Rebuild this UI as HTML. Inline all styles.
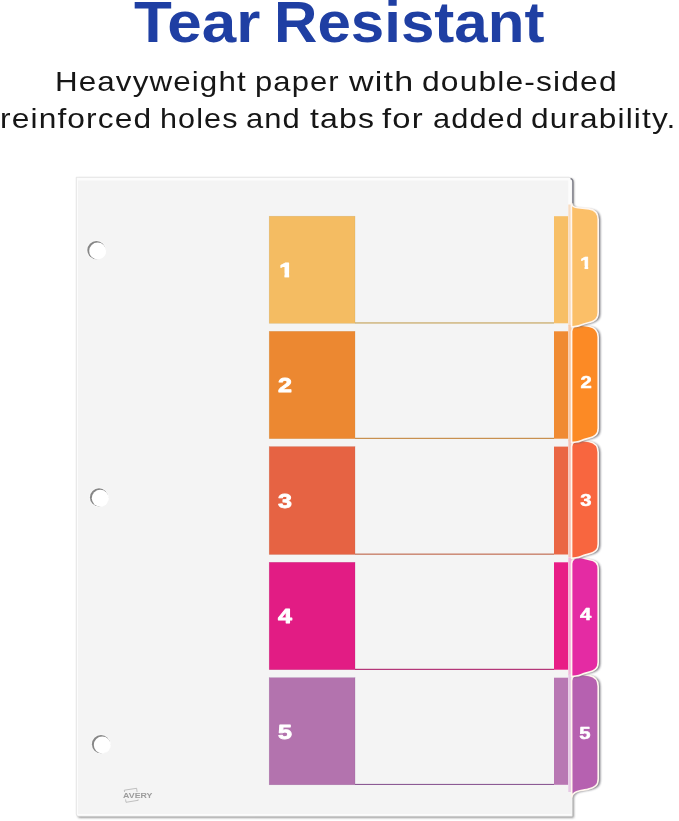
<!DOCTYPE html>
<html><head><meta charset="utf-8">
<style>
html,body{margin:0;padding:0;background:#fff;}
body{width:679px;height:821px;position:relative;overflow:hidden;font-family:"Liberation Sans",sans-serif;}
h1,p{margin:0;padding:0;font-size:0;font-weight:normal;}
.w{position:absolute;white-space:nowrap;transform-origin:0 0;color:#161616;font-size:28px;line-height:34px;letter-spacing:1px;}
.w.h{font-weight:bold;font-size:56.7px;line-height:68px;letter-spacing:0;color:#1f3fa3;}
svg{position:absolute;left:0;top:0;}
svg text{font-family:"Liberation Sans",sans-serif;font-weight:bold;fill:#fff;stroke:#fff;stroke-width:0.8px;stroke-linejoin:round;}
svg text.sm{stroke-width:0.5px;}
svg text.logo{font-weight:bold;fill:#9c9c9c;stroke:none;}
</style></head>
<body>
<h1><span class="w h" style="left:133.81px;top:-11.45px;transform:scaleX(1.093)">Tear</span> <span class="w h" style="left:274.26px;top:-11.45px;transform:scaleX(1.0596)">Resistant</span></h1>
<p><span class="w" style="left:55.36px;top:64.50px;transform:scaleX(1.1196)">Heavyweight</span> <span class="w" style="left:254.79px;top:64.50px;transform:scaleX(1.1055)">paper</span> <span class="w" style="left:349.2px;top:64.50px;transform:scaleX(1.2157)">with</span> <span class="w" style="left:422.06px;top:64.50px;transform:scaleX(1.1357)">double-sided</span>
<span class="w" style="left:-0.26px;top:102.30px;transform:scaleX(1.1323)">reinforced</span> <span class="w" style="left:159.92px;top:102.30px;transform:scaleX(1.0912)">holes</span> <span class="w" style="left:246.4px;top:102.30px;transform:scaleX(1.1043)">and</span> <span class="w" style="left:309.8px;top:102.30px;transform:scaleX(1.1436)">tabs</span> <span class="w" style="left:382.4px;top:102.30px;transform:scaleX(1.1706)">for</span> <span class="w" style="left:432.6px;top:102.30px;transform:scaleX(1.0975)">added</span> <span class="w" style="left:530.77px;top:102.30px;transform:scaleX(1.1298)">durability.</span></p>
<svg width="679" height="821" viewBox="0 0 679 821">
<defs>
<filter id="sh" x="-10%" y="-10%" width="120%" height="120%"><feGaussianBlur stdDeviation="0.9"/></filter>
<filter id="sh2" x="-50%" y="-10%" width="200%" height="120%"><feGaussianBlur stdDeviation="0.45"/></filter>
<clipPath id="c1"><rect x="-6" y="-16" width="9" height="12.3"/><rect x="-1.3" y="-3.8" width="3.55" height="4.3"/></clipPath>
<clipPath id="c2"><rect x="-5" y="-13" width="8" height="10.0"/><rect x="-1.0" y="-3.1" width="2.75" height="3.6"/></clipPath>
</defs>
<!-- paper shadow -->
<path d="M77 178 H570 Q573 178 573 182 V206 L573 790 V817 H79 Q77 817 77 815 Z" fill="#8a8a8a" filter="url(#sh)" transform="translate(0.8,0.8)"/>
<!-- paper back sheets (light) -->
<path d="M76.3 177.3 H569 Q572.3 177.3 572.3 181 V816.3 H78.5 Q76.3 816.3 76.3 814 Z" fill="#fcfcfc" stroke="#dcdcdc" stroke-width="0.7"/>
<!-- main sheet -->
<rect x="78" y="180.5" width="490.3" height="633.5" fill="#f4f4f4"/>
<rect x="78" y="786" width="493.5" height="28" fill="#f4f4f4"/>
<rect x="269.2" y="216.2" width="85.8" height="107.1" fill="#f4bc62" stroke="#c29f55" stroke-opacity="0.45" stroke-width="0.5"/>
<rect x="554" y="216.2" width="14.2" height="107.1" fill="#f7bf66"/>
<rect x="355" y="322.4" width="199" height="1.1" fill="#c29f55"/>
<rect x="269.2" y="331.3" width="85.8" height="107.4" fill="#ec8831" stroke="#c4853f" stroke-opacity="0.45" stroke-width="0.5"/>
<rect x="554" y="331.3" width="14.2" height="107.4" fill="#f08b32"/>
<rect x="355" y="437.8" width="199" height="1.1" fill="#c4853f"/>
<rect x="269.2" y="446.6" width="85.8" height="107.9" fill="#e66343" stroke="#bd6346" stroke-opacity="0.45" stroke-width="0.5"/>
<rect x="554" y="446.6" width="14.2" height="107.9" fill="#ea6644"/>
<rect x="355" y="553.6" width="199" height="1.1" fill="#bd6346"/>
<rect x="269.2" y="562.3" width="85.8" height="107.4" fill="#e21c84" stroke="#ad236c" stroke-opacity="0.45" stroke-width="0.5"/>
<rect x="554" y="562.3" width="14.2" height="107.4" fill="#e81d86"/>
<rect x="355" y="668.8" width="199" height="1.1" fill="#ad236c"/>
<rect x="269.2" y="677.7" width="85.8" height="107.1" fill="#b373ae" stroke="#8c5a94" stroke-opacity="0.45" stroke-width="0.5"/>
<rect x="554" y="677.7" width="14.2" height="107.1" fill="#b877b3"/>
<rect x="355" y="783.9" width="199" height="1.1" fill="#8c5a94"/>
<path d="M570.5 178.6 Q572.9 178.8 572.9 182 V203.5" fill="none" stroke="#7e7e88" stroke-width="1.3" filter="url(#sh2)"/>
<rect x="568.3" y="204.5" width="3.6" height="121.10000000000002" fill="#f8dcc0"/>
<rect x="568.3" y="325.0" width="3.6" height="116.19999999999999" fill="#f9c9a4"/>
<rect x="568.3" y="440.3" width="3.6" height="116.69999999999999" fill="#f6c3b8"/>
<rect x="568.3" y="557.3" width="3.6" height="117.90000000000009" fill="#f3b4d8"/>
<rect x="568.3" y="674.2" width="3.6" height="117.79999999999995" fill="#e6c9e5"/>
<path d="M571.6 680.7 C571.8 676.2 575 674.2 580 674.2 L589 675.4000000000001 C595.5 676.6000000000001 598.2 679.7 598.2 686.2 V779 C598.2 785 595.5 787.4 587.5 789.4 C582 790.4 573 790.5 571.7 797 Z" fill="#6a6a72" opacity="0.95" filter="url(#sh)" transform="translate(2.1,0.7)"/>
<path d="M571.6 680.7 C571.8 676.2 575 674.2 580 674.2 L589 675.4000000000001 C595.5 676.6000000000001 598.2 679.7 598.2 686.2 V779 C598.2 785 595.5 787.4 587.5 789.4 C582 790.4 573 790.5 571.7 797 Z" fill="#b661b0" stroke="#fff6ee" stroke-width="1.6" stroke-linejoin="round"/>
<path d="M571.6 563.8 C571.8 559.3 575 557.3 580 557.3 L589 559.5 C595.5 560.7 598.2 562.8 598.2 569.3 V662.2 C598.2 668.2 595.5 670.6 587.5 672.6 C585 673.2 583 673.8000000000001 581 674.7 C579.5 675.4000000000001 578 675.8000000000001 576 676.0 L571.6 676.6 Z" fill="#6a6a72" opacity="0.95" filter="url(#sh)" transform="translate(2.1,0.7)"/>
<path d="M571.6 563.8 C571.8 559.3 575 557.3 580 557.3 L589 559.5 C595.5 560.7 598.2 562.8 598.2 569.3 V662.2 C598.2 668.2 595.5 670.6 587.5 672.6 C585 673.2 583 673.8000000000001 581 674.7 C579.5 675.4000000000001 578 675.8000000000001 576 676.0 L571.6 676.6 Z" fill="#e42ba3" stroke="#fff6ee" stroke-width="1.6" stroke-linejoin="round"/>
<path d="M571.6 446.8 C571.8 442.3 575 440.3 580 440.3 L589 441.5 C595.5 442.7 598.2 445.8 598.2 452.3 V544.0 C598.2 550.0 595.5 552.4 587.5 554.4 C585 555.0 583 555.6 581 556.5 C579.5 557.2 578 557.6 576 557.8 L571.6 558.4 Z" fill="#6a6a72" opacity="0.95" filter="url(#sh)" transform="translate(2.1,0.7)"/>
<path d="M571.6 446.8 C571.8 442.3 575 440.3 580 440.3 L589 441.5 C595.5 442.7 598.2 445.8 598.2 452.3 V544.0 C598.2 550.0 595.5 552.4 587.5 554.4 C585 555.0 583 555.6 581 556.5 C579.5 557.2 578 557.6 576 557.8 L571.6 558.4 Z" fill="#f8663f" stroke="#fff6ee" stroke-width="1.6" stroke-linejoin="round"/>
<path d="M571.6 331.5 C571.8 327.0 575 325.0 580 325.0 L589 326.2 C595.5 327.4 598.2 330.5 598.2 337.0 V428.2 C598.2 434.2 595.5 436.59999999999997 587.5 438.59999999999997 C585 439.2 583 439.8 581 440.7 C579.5 441.4 578 441.8 576 442.0 L571.6 442.59999999999997 Z" fill="#6a6a72" opacity="0.95" filter="url(#sh)" transform="translate(2.1,0.7)"/>
<path d="M571.6 331.5 C571.8 327.0 575 325.0 580 325.0 L589 326.2 C595.5 327.4 598.2 330.5 598.2 337.0 V428.2 C598.2 434.2 595.5 436.59999999999997 587.5 438.59999999999997 C585 439.2 583 439.8 581 440.7 C579.5 441.4 578 441.8 576 442.0 L571.6 442.59999999999997 Z" fill="#fc8a25" stroke="#fff6ee" stroke-width="1.6" stroke-linejoin="round"/>
<path d="M571.4 203.0 C571.8 206.0 574 207.7 578 207.8 L589 208.9 C595.5 209.89999999999998 598.2 213.0 598.2 219.5 V312.6 C598.2 318.6 595.5 321.0 587.5 323.0 C585 323.6 583 324.20000000000005 581 325.1 C579.5 325.8 578 326.20000000000005 576 326.40000000000003 L571.6 327.0 Z" fill="#6a6a72" opacity="0.95" filter="url(#sh)" transform="translate(2.1,0.7)"/>
<path d="M571.4 203.0 C571.8 206.0 574 207.7 578 207.8 L589 208.9 C595.5 209.89999999999998 598.2 213.0 598.2 219.5 V312.6 C598.2 318.6 595.5 321.0 587.5 323.0 C585 323.6 583 324.20000000000005 581 325.1 C579.5 325.8 578 326.20000000000005 576 326.40000000000003 L571.6 327.0 Z" fill="#fbbf68" stroke="#fff6ee" stroke-width="1.6" stroke-linejoin="round"/>
<text x="0" y="0" font-size="19.3" clip-path="url(#c1)" text-anchor="middle" transform="translate(286.2,277.2) scale(1.3,1)">1</text>
<text class="sm" x="0" y="0" font-size="15.6" clip-path="url(#c2)" text-anchor="middle" transform="translate(585.9,268.8) scale(1.3,1)">1</text>
<text x="0" y="0" font-size="19.3" text-anchor="middle" transform="translate(285.0,391.7) scale(1.3,1)">2</text>
<text class="sm" x="0" y="0" font-size="15.6" text-anchor="middle" transform="translate(586.1,387.7) scale(1.3,1)">2</text>
<text x="0" y="0" font-size="19.3" text-anchor="middle" transform="translate(285.0,507.7) scale(1.3,1)">3</text>
<text class="sm" x="0" y="0" font-size="15.6" text-anchor="middle" transform="translate(585.9,505.7) scale(1.3,1)">3</text>
<text x="0" y="0" font-size="19.3" text-anchor="middle" transform="translate(285.0,622.9) scale(1.3,1)">4</text>
<text class="sm" x="0" y="0" font-size="15.6" text-anchor="middle" transform="translate(585.7,619.9) scale(1.3,1)">4</text>
<text x="0" y="0" font-size="19.3" text-anchor="middle" transform="translate(285.0,738.5) scale(1.3,1)">5</text>
<text class="sm" x="0" y="0" font-size="15.6" text-anchor="middle" transform="translate(584.9,739.4) scale(1.3,1)">5</text>
<circle cx="96.4" cy="250.1" r="9.9" fill="#f9f9f9"/>
<circle cx="96.4" cy="250.1" r="9.1" fill="#868686"/>
<circle cx="97.65" cy="250.95" r="8.45" fill="#ffffff"/>
<circle cx="99" cy="497.4" r="9.9" fill="#f9f9f9"/>
<circle cx="99" cy="497.4" r="9.1" fill="#868686"/>
<circle cx="100.25" cy="498.25" r="8.45" fill="#ffffff"/>
<circle cx="101" cy="744.2" r="9.9" fill="#f9f9f9"/>
<circle cx="101" cy="744.2" r="9.1" fill="#868686"/>
<circle cx="102.25" cy="745.0500000000001" r="8.45" fill="#ffffff"/>
<path d="M124.3 790.2 L136.6 788.3 L138.2 800.3 L126 802.3 Z" fill="none" stroke="#a8a8a8" stroke-width="0.7"/>
<rect x="122.5" y="792" width="31" height="7.4" fill="#f4f4f4"/>
<text class="logo" x="123.1" y="798.4" font-size="7.7" textLength="29.4" lengthAdjust="spacingAndGlyphs">AVERY</text>
</svg>
</body></html>
